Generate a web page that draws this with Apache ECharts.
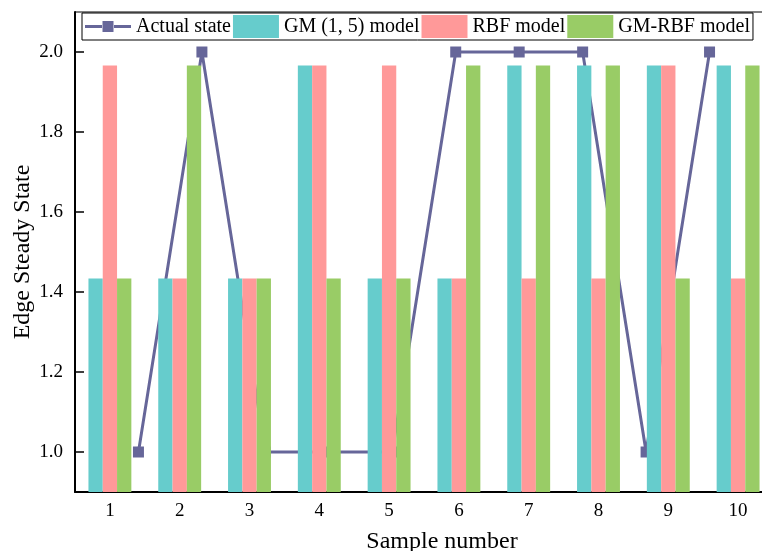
<!DOCTYPE html>
<html>
<head>
<meta charset="utf-8">
<script src="https://cdn.jsdelivr.net/npm/echarts@6/dist/echarts.min.js"></script>
<style>html,body{margin:0;padding:0;background:#fff;}#c{width:762px;height:551px;}</style>
</head>
<body>
<div id="c"></div>
<script>
const categories = ['1','2','3','4','5','6','7','8','9','10'];
const gmValues = [1.434,1.434,1.434,1.966,1.434,1.434,1.966,1.966,1.966,1.966];
const rbfValues = [1.966,1.434,1.434,1.966,1.966,1.434,1.434,1.434,1.966,1.434];
const gmrbfValues = [1.434,1.966,1.434,1.434,1.434,1.966,1.966,1.966,1.434,1.966];
const actualX = [1,2,3,4,5,6,7,8,9,10];
const actualState = [1.0,2.0,1.0,1.0,1.0,2.0,2.0,2.0,1.0,2.0];
const yTickValues = [1.0,1.2,1.4,1.6,1.8,2.0];

const FONT = '"Liberation Serif", "Times New Roman", serif';
const chart = echarts.init(document.getElementById('c'));
const lineIcon = 'path://M0,10L17,10L17,13L0,13Z M29,10L46,10L46,13L29,13Z M17.5,6L28.5,6L28.5,17L17.5,17Z';
chart.setOption({
  backgroundColor: '#fff',
  animation: false,
  textStyle: {fontFamily: FONT},
  grid: {left: 75, top: 12, width: 698, height: 480, outerBoundsMode: 'none', containLabel: false, show: true, borderColor: '#000', borderWidth: 1, backgroundColor: 'transparent'},
  legend: {
    left: 82, top: 13,
    padding: [2, 3, 2, 3],
    borderColor: '#000', borderWidth: 1,
    itemWidth: 46, itemHeight: 23, itemGap: 2,
    textStyle: {fontSize: 20, fontFamily: FONT, color: '#000'},
    data: [
      {name: 'Actual state', icon: lineIcon, itemStyle: {borderWidth: 0}},
      {name: 'GM (1, 5) model', icon: 'rect'},
      {name: 'RBF model', icon: 'rect'},
      {name: 'GM-RBF model', icon: 'rect'}
    ]
  },
  xAxis: [{
    type: 'category', data: categories, boundaryGap: true,
    name: 'Sample number', nameLocation: 'middle', nameGap: 38,
    nameTextStyle: {fontSize: 24, fontFamily: FONT, color: '#000', padding: [0, 0, 0, 36]},
    axisLine: {lineStyle: {color: '#000', width: 2}},
    axisTick: {alignWithLabel: true, inside: true, length: 9, lineStyle: {color: '#000', width: 1.5}},
    axisLabel: {fontSize: 19, fontFamily: FONT, color: '#000', margin: 10},
    splitLine: {show: false}
  }, {
    type: 'value', min: 0, max: 11, show: false, position: 'bottom'
  }],
  yAxis: {
    type: 'value', min: 0.9, max: 2.1,
    name: 'Edge Steady State', nameLocation: 'middle', nameGap: 40, nameRotate: 90, nameMoveOverlap: false,
    nameTextStyle: {fontSize: 24, fontFamily: FONT, color: '#000'},
    axisLine: {show: true, lineStyle: {color: '#000', width: 2}},
    axisTick: {show: true, inside: true, length: 9, customValues: yTickValues, lineStyle: {color: '#000', width: 1.5}},
    axisLabel: {fontSize: 19, fontFamily: FONT, color: '#000', margin: 12, customValues: yTickValues, formatter: v => v.toFixed(1)},
    splitLine: {show: false}
  },
  series: [
    {
      name: 'Actual state', type: 'line', xAxisIndex: 1, z: 1,
      data: actualX.map((x, i) => [x, actualState[i]]),
      symbol: 'rect', symbolSize: 11,
      lineStyle: {color: '#666699', width: 3},
      itemStyle: {color: '#666699'}
    },
    {name: 'GM (1, 5) model', type: 'bar', data: gmValues, barWidth: 14.3, barGap: '0%', z: 2, itemStyle: {color: '#66CCCC'}},
    {name: 'RBF model', type: 'bar', data: rbfValues, barWidth: 14.3, barGap: '0%', z: 2, itemStyle: {color: '#FF9999'}},
    {name: 'GM-RBF model', type: 'bar', data: gmrbfValues, barWidth: 14.3, barGap: '0%', z: 2, itemStyle: {color: '#99CC66'}}
  ]
});
</script>
</body>
</html>
